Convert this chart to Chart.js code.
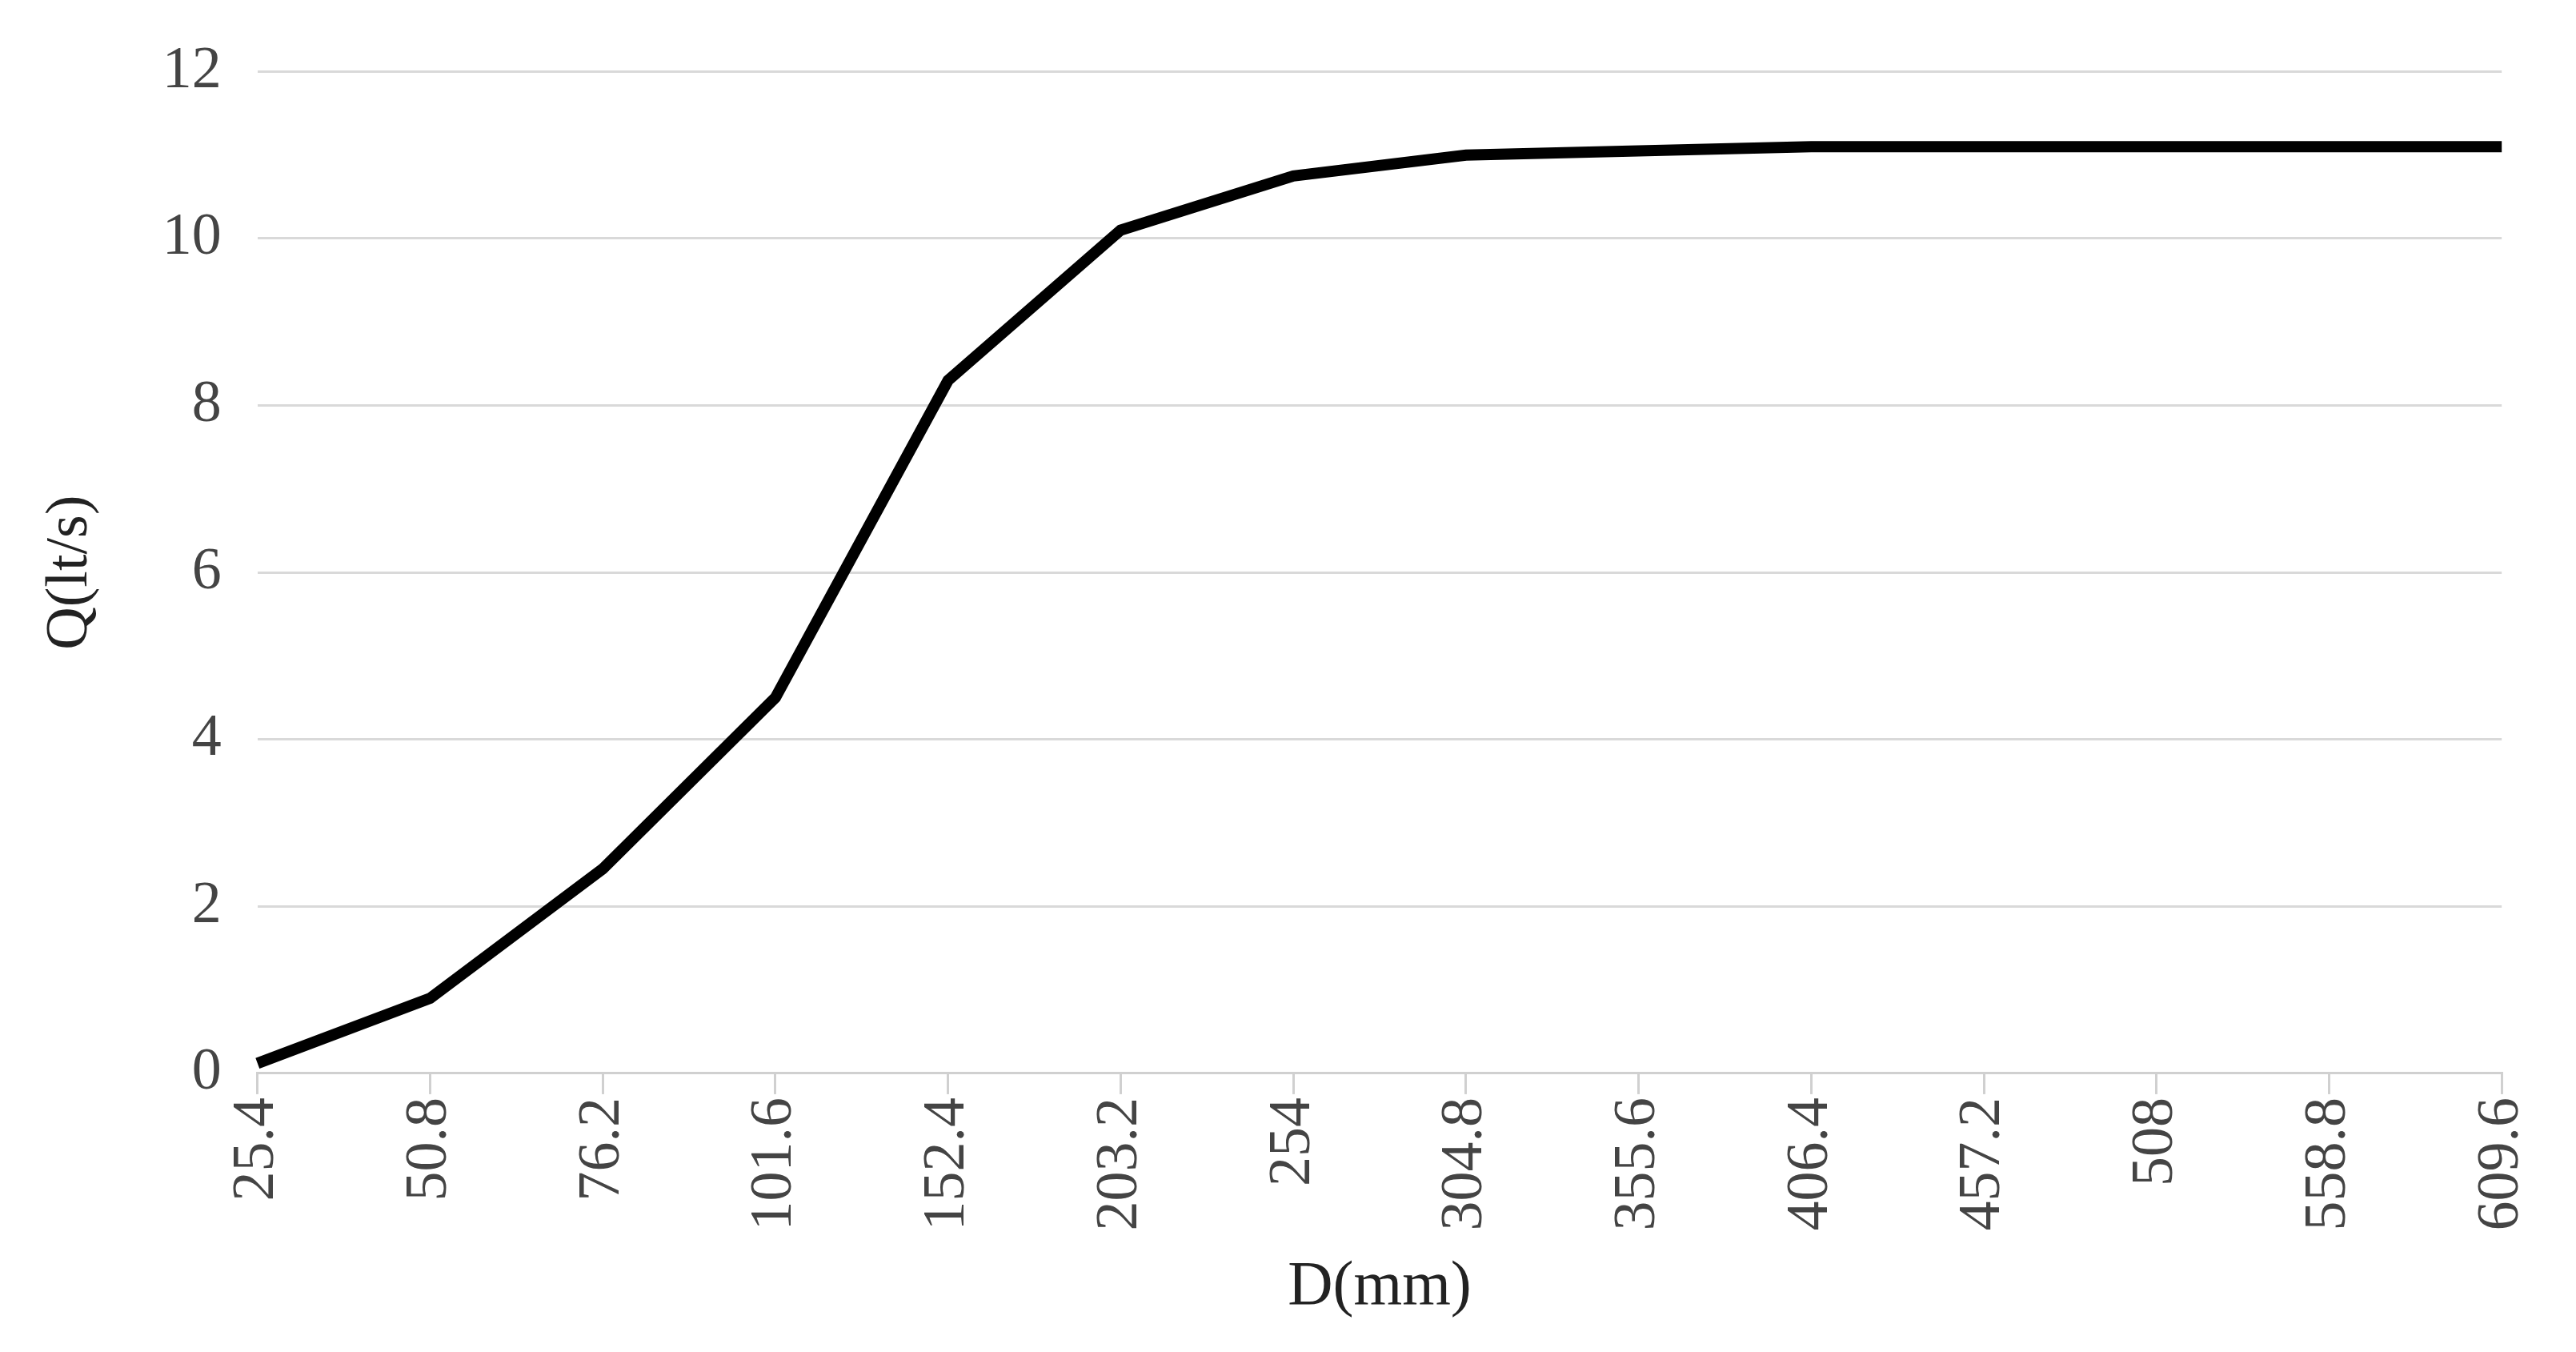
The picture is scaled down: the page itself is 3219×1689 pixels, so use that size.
<!DOCTYPE html>
<html>
<head>
<meta charset="utf-8">
<script src="https://cdn.jsdelivr.net/npm/chart.js@4/dist/chart.umd.min.js"></script>
<style>
  html, body { margin: 0; padding: 0; background: #fff; }
  #wrap { width: 3219px; height: 1689px; }
</style>
</head>
<body>
<div id="wrap"><canvas id="chart"></canvas></div>
<script>
const diameters = ['25.4', '50.8', '76.2', '101.6', '152.4', '203.2', '254', '304.8', '355.6', '406.4', '457.2', '508', '558.8', '609.6'];
const flows = [0.12, 0.9, 2.45, 4.5, 8.3, 10.1, 10.75, 11.0, 11.05, 11.1, 11.1, 11.1, 11.1, 11.1];
const yTicks = [0, 2, 4, 6, 8, 10, 12];

const font = { family: '"Liberation Serif", "DejaVu Serif", serif', size: 74 };

new Chart(document.getElementById('chart'), {
    type: 'line',
    data: {
        labels: diameters,
        datasets: [{
            data: flows,
            borderColor: '#000',
            borderWidth: 14,
            pointRadius: 0,
            tension: 0
        }]
    },
    options: {
        responsive: true,
        maintainAspectRatio: false,
        animation: false,
        layout: { padding: { left: 40, right: 90, top: 45, bottom: 30 } },
        plugins: { legend: { display: false }, tooltip: { enabled: false } },
        scales: {
            x: {
                offset: false,
                grid: { drawOnChartArea: false, color: '#d0d0d0', lineWidth: 3, tickLength: 26 },
                border: { color: '#d0d0d0', width: 3 },
                ticks: { color: '#444', font: font, minRotation: 90, maxRotation: 90, autoSkip: false, padding: 4 },
                title: { display: true, text: 'D(mm)', color: '#222', font: { family: font.family, size: 78 }, padding: { top: 20 } }
            },
            y: {
                min: 0,
                max: 12,
                afterBuildTicks: axis => { axis.ticks = yTicks.map(v => ({ value: v })); },
                grid: { color: '#d9d9d9', lineWidth: 3, drawTicks: false },
                border: { display: false },
                ticks: { color: '#444', font: font, padding: 45 },
                title: { display: true, text: 'Q(lt/s)', color: '#222', font: { family: font.family, size: 74 }, padding: { bottom: 25 } }
            }
        }
    }
});
</script>
</body>
</html>
